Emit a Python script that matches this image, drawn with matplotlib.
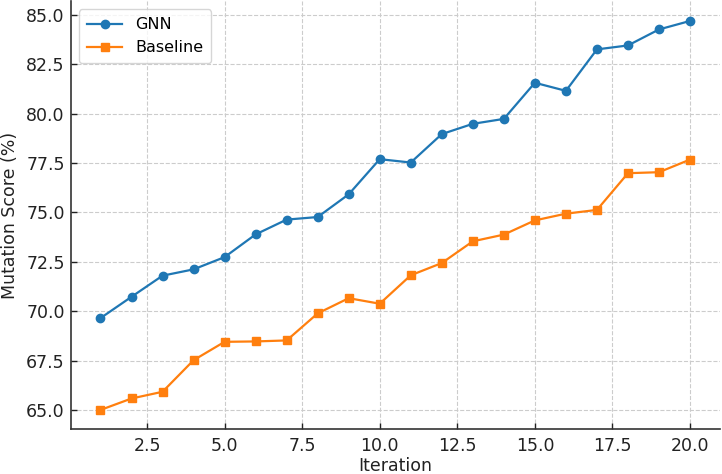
import matplotlib
matplotlib.use("Agg")
import matplotlib.pyplot as plt

iterations = list(range(1, 21))
gnn = [69.65, 70.73, 71.80, 72.12, 72.74, 73.89, 74.64, 74.77, 75.92, 77.70,
       77.53, 78.97, 79.49, 79.74, 81.57, 81.16, 83.26, 83.46, 84.27, 84.70]
baseline = [65.00, 65.58, 65.92, 67.52, 68.45, 68.47, 68.52, 69.89, 70.66, 70.38,
            71.82, 72.44, 73.54, 73.88, 74.60, 74.94, 75.13, 76.99, 77.04, 77.68]
yticks = [65.0, 67.5, 70.0, 72.5, 75.0, 77.5, 80.0, 82.5, 85.0]
xticks = [2.5, 5.0, 7.5, 10.0, 12.5, 15.0, 17.5, 20.0]

plt.rcParams['font.family'] = ['DejaVu Sans']
fig = plt.figure(figsize=(7.22, 4.74), dpi=100)
ax = fig.add_axes([71/722, 1 - 429.4/474, (719.5 - 71)/722, (429.4 - 1.5)/474])

ax.plot(iterations, gnn, marker='o', color='#1f77b4', linewidth=1.6, markersize=6, label='GNN')
ax.plot(iterations, baseline, marker='s', color='#ff7f0e', linewidth=1.6, markersize=6, label='Baseline')

ax.set_xticks(xticks)
ax.set_xticklabels([f"{t:.1f}" for t in xticks])
ax.set_yticks(yticks)
ax.set_yticklabels([f"{t:.1f}" for t in yticks])
ax.margins(x=0.05, y=0.05)

ax.grid(True, linestyle='--', color='#cccccc', linewidth=0.8)
ax.set_axisbelow(True)
ax.tick_params(direction='in', length=4, width=1, colors='#222222', labelsize=12.5)
ax.tick_params(axis='y', pad=4.5)
ax.tick_params(axis='x', pad=5.5)
for s in ['top', 'right']:
    ax.spines[s].set_visible(False)
for s in ['left', 'bottom']:
    ax.spines[s].set_color('#333333')
    ax.spines[s].set_linewidth(1.2)

ax.set_xlabel('Iteration', fontsize=12.5, color='#222222', labelpad=1.5)
ax.set_ylabel('Mutation Score (%)', fontsize=12.5, color='#222222', labelpad=5)
leg = ax.legend(loc='upper left', fontsize=11.5, frameon=True, borderpad=0.5,
                handlelength=2.2)
leg.get_frame().set_edgecolor('#cccccc')

fig.savefig('out.png', dpi=100)
